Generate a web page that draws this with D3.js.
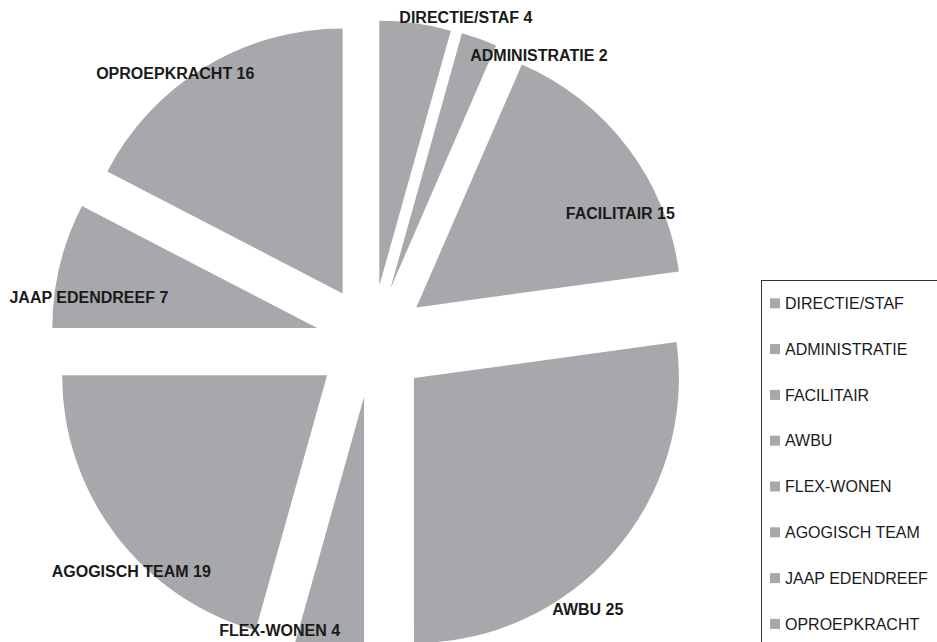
<!DOCTYPE html>
<html>
<head>
<meta charset="utf-8">
<script src="https://cdn.jsdelivr.net/npm/d3@7"></script>
<style>
  html, body { margin: 0; padding: 0; background: #fff; overflow: hidden; }
  svg { display: block; }
</style>
</head>
<body>
<svg id="chart" width="937" height="642"></svg>
<script>
// ---- data ----
const categories = ["DIRECTIE/STAF", "ADMINISTRATIE", "FACILITAIR", "AWBU", "FLEX-WONEN", "AGOGISCH TEAM", "JAAP EDENDREEF", "OPROEPKRACHT"];
const values = [4, 2, 15, 25, 4, 19, 7, 16];

// ---- layout (label placement: angle in degrees clockwise from top, distance as fraction of radius) ----
const labelAngles = [16.2, 30.3, 62.7, 141.1, 197.7, 226.3, 278.8, 323.8];
const labelDist   = [1.274, 1.251, 1.056, 1.299, 1.143, 1.255, 1.080, 1.255];

const W = 937, H = 642;
const cx = 371.7, cy = 341.3;
const R = 265;
const explode = 56;
const sliceColor = "#a6a8ab";
const textColor = "#1a1a1a";

const svg = d3.select("#chart");

const data = categories.map((c, i) => ({ name: c, value: values[i], i }));

const pie = d3.pie().sort(null).value(d => d.value).startAngle(0).endAngle(2 * Math.PI);
const arcs = pie(data);
const arc = d3.arc().innerRadius(0).outerRadius(R);

const g = svg.append("g").attr("transform", `translate(${cx},${cy})`);

g.selectAll("path.slice")
  .data(arcs)
  .join("path")
  .attr("class", "slice")
  .attr("fill", sliceColor)
  .attr("transform", d => {
    const a = (d.startAngle + d.endAngle) / 2;
    return `translate(${explode * Math.sin(a)},${-explode * Math.cos(a)})`;
  })
  .attr("d", arc);

// data labels
g.selectAll("text.lbl")
  .data(arcs)
  .join("text")
  .attr("class", "lbl")
  .attr("x", d => labelDist[d.index] * R * Math.sin(labelAngles[d.index] * Math.PI / 180))
  .attr("y", d => -labelDist[d.index] * R * Math.cos(labelAngles[d.index] * Math.PI / 180))
  .attr("text-anchor", "middle")
  .attr("dy", "0.36em")
  .attr("font-family", "Liberation Sans, Arial, sans-serif")
  .attr("font-weight", "bold")
  .attr("font-size", 16)
  .attr("fill", textColor)
  .text(d => `${d.data.name} ${d.data.value}`);

// legend
const legendX = 761.5, legendY = 280.5, itemStep = 45.8, firstItemY = 303.3;
svg.append("rect")
  .attr("x", legendX).attr("y", legendY)
  .attr("width", 300).attr("height", 500)
  .attr("fill", "none")
  .attr("stroke", "#333")
  .attr("stroke-width", 1);

const legendScale = d3.scalePoint().domain(categories).range([firstItemY, firstItemY + itemStep * (categories.length - 1)]);

const li = svg.selectAll("g.li")
  .data(categories)
  .join("g")
  .attr("class", "li")
  .attr("transform", d => `translate(0,${legendScale(d)})`);

li.append("rect")
  .attr("x", 770).attr("y", -5)
  .attr("width", 10).attr("height", 10)
  .attr("fill", sliceColor);

li.append("text")
  .attr("x", 785)
  .attr("dy", "0.36em")
  .attr("font-family", "Liberation Sans, Arial, sans-serif")
  .attr("font-size", 16)
  .attr("fill", textColor)
  .text(d => d);
</script>
</body>
</html>
